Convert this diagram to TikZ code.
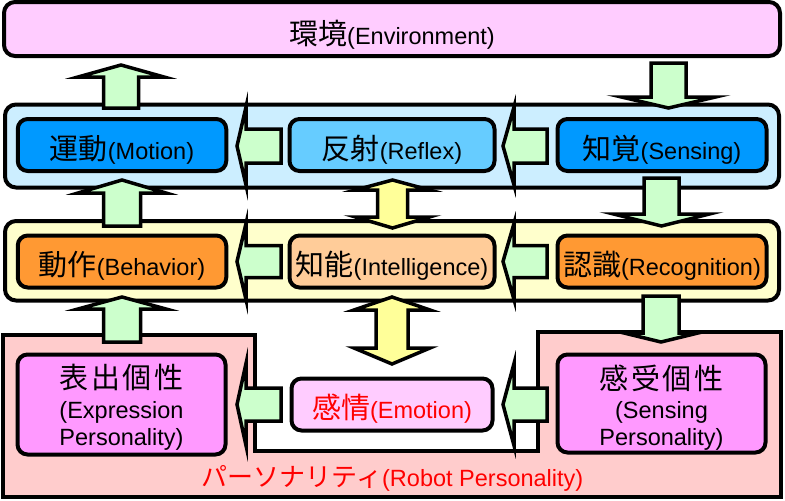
\documentclass[tikz,border=0pt]{standalone}
\usepackage{fontspec}
\setmainfont{Liberation Sans}
\newfontfamily\jpfont{Noto Sans CJK JP}
\newcommand\jp[1]{{\fontsize{29}{32}\jpfont #1}}
\newcommand\jpw[1]{{\fontsize{29}{32}\jpfont #1}}
\definecolor{envpink}{HTML}{FFCCFF}
\definecolor{bandblue}{HTML}{CCEEFF}
\definecolor{bandyellow}{HTML}{FFFFCC}
\definecolor{boxblue}{HTML}{0099FF}
\definecolor{boxlightblue}{HTML}{66CCFF}
\definecolor{boxorange}{HTML}{FF9933}
\definecolor{boxpeach}{HTML}{FFCC99}
\definecolor{regionpink}{HTML}{FFCCCC}
\definecolor{boxmagenta}{HTML}{FF99FF}
\definecolor{boxlightpink}{HTML}{FFCCFF}
\definecolor{arrowgreen}{HTML}{CCFFCC}
\definecolor{arrowyellow}{HTML}{FFFF99}
\definecolor{textred}{HTML}{FF0000}
% vertical block arrow: style, cx, tip y, head base y, shaft end y, shaft half, head half
\newcommand\blkv[7]{\draw[#1] ({#2-#6},#5) -- ({#2-#6},#4) -- ({#2-#7},#4) -- (#2,#3) -- ({#2+#7},#4) -- ({#2+#6},#4) -- ({#2+#6},#5) -- cycle;}
% horizontal block arrow: style, cy, tip x, head base x, shaft end x, shaft half, head half
\newcommand\blkh[7]{\draw[#1] (#5,{#2-#6}) -- (#4,{#2-#6}) -- (#4,{#2-#7}) -- (#3,#2) -- (#4,{#2+#7}) -- (#4,{#2+#6}) -- (#5,{#2+#6}) -- cycle;}
% vertical double block arrow: style, cx, tip1, base1, base2, tip2, shaft half, head half
\newcommand\blkdbl[8]{\draw[#1] (#2,#3) -- ({#2+#8},#4) -- ({#2+#7},#4) -- ({#2+#7},#5) -- ({#2+#8},#5) -- (#2,#6) -- ({#2-#8},#5) -- ({#2-#7},#5) -- ({#2-#7},#4) -- ({#2-#8},#4) -- cycle;}
\begin{document}
\begin{tikzpicture}[x=1pt,y=-1pt,
  every node/.style={font=\fontsize{23.5}{27}\selectfont, inner sep=0pt, outer sep=0pt},
  band/.style={draw=black, line width=4pt, rounded corners=11pt},
  box/.style={draw=black, line width=4pt, rounded corners=10pt, minimum height=52pt, text height=28pt, text depth=0pt},
  region/.style={draw=black, line width=4pt, fill=regionpink},
  garrow/.style={draw=black, line width=3.5pt, fill=arrowgreen},
  yarrow/.style={draw=black, line width=3.5pt, fill=arrowyellow},
  lbl/.style={anchor=base},
]
\useasboundingbox (0,0) rectangle (785,501);

% environment and bands
\node[band, fill=envpink, minimum width=776pt, minimum height=54pt, text height=30pt, text depth=0pt] (env) at (392,29) {\jp{環境}(Environment)};
\node[band, fill=bandblue, minimum width=774pt, minimum height=83pt] (band1) at (392,146) {};
\node[band, fill=bandyellow, minimum width=774pt, minimum height=79.5pt] (band2) at (392,260.75) {};
\draw[region] (2.5,334.5) -- (254.5,334.5) -- (254.5,450.5) -- (537.5,450.5) -- (537.5,331.5) -- (780.5,331.5) -- (780.5,496.5) -- (2.5,496.5) -- cycle;

% row 1
\node[box, fill=boxblue, minimum width=208.5pt] (motion) at (122,145) {\jp{運動}(Motion)};
\node[box, fill=boxlightblue, minimum width=205pt] (reflex) at (392,145) {\jp{反射}(Reflex)};
\node[box, fill=boxblue, minimum width=209pt] (sensing) at (662,145) {\jp{知覚}(Sensing)};
% row 2
\node[box, fill=boxorange, minimum width=208.5pt] (behavior) at (122,261.5) {\jp{動作}(Behavior)};
\node[box, fill=boxpeach, minimum width=205pt] (intel) at (392,261.5) {\jp{知能}(Intelligence)};
\node[box, fill=boxorange, minimum width=209pt] (recog) at (662,261.5) {\jp{認識}(Recognition)};
% row 3
\node[box, fill=boxmagenta, minimum width=208pt, minimum height=100pt] (expr) at (121.5,404.5) {};
\node[box, fill=boxlightpink, minimum width=201pt] (emotion) at (392,404.5) {\color{textred}\jp{感情}(Emotion)};
\node[box, fill=boxmagenta, minimum width=208pt, minimum height=98pt] (senspers) at (661.5,403.5) {};

\node[lbl] (exprj) at (121.5,388) {\jpw{表\kern2.5pt 出\kern2.5pt 個\kern2.5pt 性}};
\node[lbl] (exprl1) at (121.5,418) {(Expression};
\node[lbl] (exprl2) at (121.5,445) {Personality)};
\node[lbl] (sensj) at (661.5,389) {\jpw{感\kern2.5pt 受\kern2.5pt 個\kern2.5pt 性}};
\node[lbl] (sensl1) at (661.5,418) {(Sensing};
\node[lbl] (sensl2) at (661.5,445) {Personality)};
\node[lbl, text=textred] (robot) at (392.5,486) {{\fontsize{26}{28}\jpfont パーソナリティ}(Robot Personality)};

% vertical arrows
\blkv{garrow}{121}{65}{77}{108}{17.5}{43}
\blkv{garrow}{668.5}{108}{97}{63}{17.5}{47}
\blkv{garrow}{122}{180}{193}{226}{18.5}{44}
\blkv{garrow}{661.5}{226}{214}{178}{17.5}{48}
\blkv{garrow}{122}{297}{309}{342}{18.5}{44}
\blkv{garrow}{661}{342}{333}{296}{18}{37}
\blkdbl{yarrow}{392.5}{180}{190}{217}{228}{15}{37}
\blkdbl{yarrow}{392}{297}{310}{348}{364}{16}{38}

% horizontal arrows
\blkh{garrow}{146}{237}{246}{281}{17}{39}
\blkh{garrow}{146}{503}{514}{547}{17}{39}
\blkh{garrow}{261.5}{237}{246}{281}{16}{38}
\blkh{garrow}{261.5}{503}{514}{547}{16}{38}
\blkh{garrow}{404.5}{237}{246}{281}{16.5}{41}
\blkh{garrow}{404.5}{503}{514}{547}{16.5}{41}
\end{tikzpicture}
\end{document}
